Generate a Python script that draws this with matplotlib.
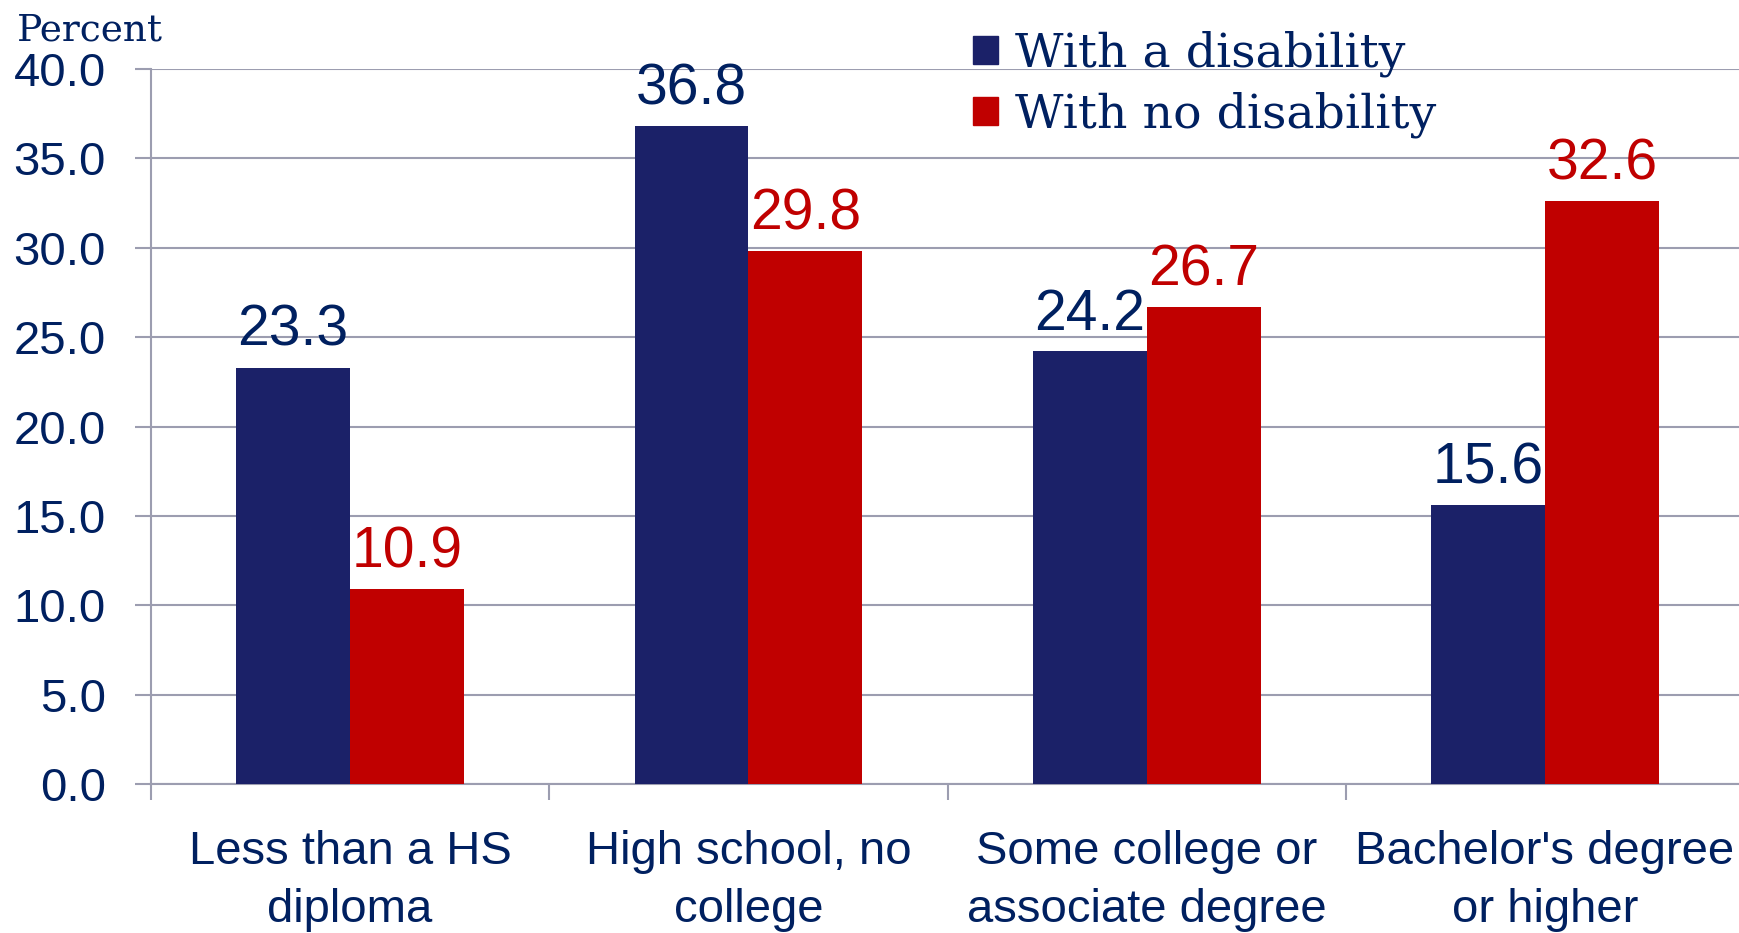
import matplotlib.pyplot as plt
import numpy as np
from matplotlib.patches import Patch

# Educational attainment, people with / without a disability
categories = ["Less than a HS\ndiploma", "High school, no\ncollege",
              "Some college or\nassociate degree", "Bachelor's degree\nor higher"]
with_disability = [23.3, 36.8, 24.2, 15.6]
no_disability = [10.9, 29.8, 26.7, 32.6]
series_names = ["With a disability", "With no disability"]
y_ticks = [0, 5, 10, 15, 20, 25, 30, 35, 40]

blue = "#1b2168"
red = "#c00000"
text_col = "#002060"
grid_col = "#9c9db0"
sans = "Liberation Sans"
serif = "DejaVu Serif"

fig = plt.figure(figsize=(17.39, 9.33), dpi=100)
ax = fig.add_axes([0.0868, 0.1597, 0.9162, 0.7663])

x = np.arange(len(categories))
w = 0.286
b1 = ax.bar(x - w / 2, with_disability, w, color=blue, zorder=3)
b2 = ax.bar(x + w / 2, no_disability, w, color=red, zorder=3)

# value labels above each bar
ax.bar_label(b1, fmt="%.1f", padding=7, fontsize=41, color=text_col, family=sans)
ax.bar_label(b2, fmt="%.1f", padding=7, fontsize=41, color=red, family=sans)

ax.set_xlim(-0.5, len(categories) - 0.5)
ax.set_ylim(0, 40)
ax.set_yticks(y_ticks)
ax.set_yticklabels([f"{v:.1f}" for v in y_ticks])
ax.set_xticks(x)
ax.set_xticklabels(categories, linespacing=1.41)
ax.set_xticks(np.arange(len(categories)) - 0.5, minor=True)

ax.tick_params(axis="y", length=11.5, width=1.5, color=grid_col, labelsize=34,
               labelcolor=text_col, pad=21)
ax.tick_params(axis="x", which="major", length=0, labelsize=34, labelcolor=text_col, pad=33)
ax.tick_params(axis="x", which="minor", length=11.5, width=1.5, color=grid_col)
for lab in ax.get_xticklabels() + ax.get_yticklabels():
    lab.set_family(sans)

ax.grid(axis="y", color=grid_col, linewidth=1.5, zorder=0)
for s in ["top", "right"]:
    ax.spines[s].set_visible(False)
for s in ["left", "bottom"]:
    ax.spines[s].set_color(grid_col)
    ax.spines[s].set_linewidth(1.5)

fig.text(0.0095, 0.957, "Percent", family=serif, fontsize=27, color=text_col,
         ha="left", va="baseline")

handles = [Patch(color=blue), Patch(color=red)]
ax.legend(handles, series_names, loc="upper left", bbox_to_anchor=(0.5595, 0.967),
          bbox_transform=fig.transFigure, frameon=False, borderpad=0, borderaxespad=0,
          handlelength=0.53, handleheight=0.53, handletextpad=0.35, labelspacing=0.31,
          prop={"family": serif, "size": 34}, labelcolor=text_col)

fig.savefig("out.png", dpi=100)
